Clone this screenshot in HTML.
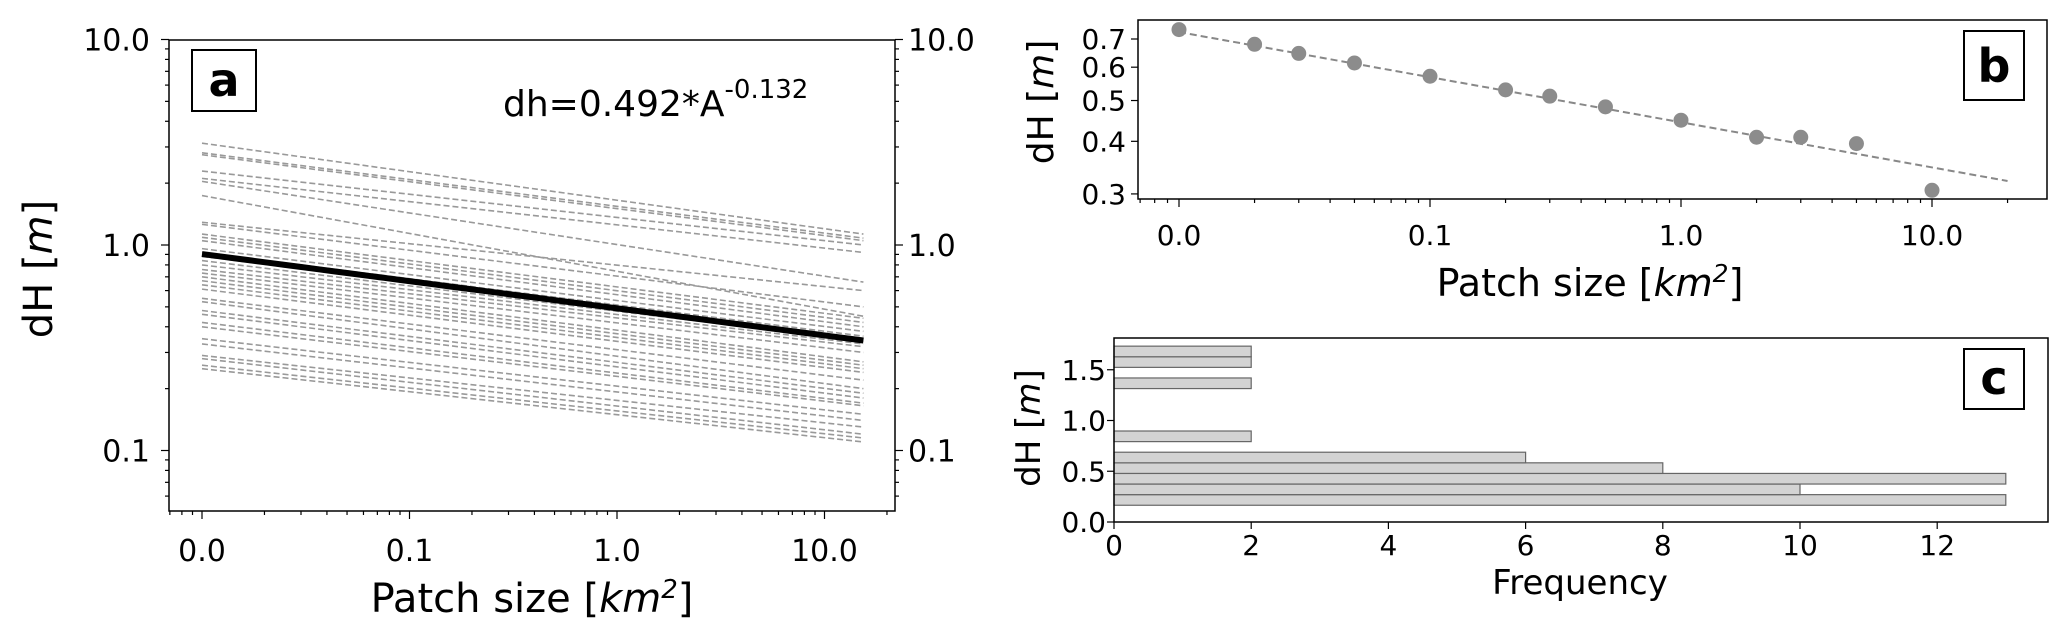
<!DOCTYPE html>
<html><head><meta charset="utf-8"><style>
html,body{margin:0;padding:0;background:#fff}
svg{display:block;font-family:"DejaVu Sans","Liberation Sans",sans-serif}
</style></head><body>
<svg id="fig" width="2067" height="636" viewBox="0 0 2067 636" xmlns="http://www.w3.org/2000/svg"></svg>
<script>
// ---- Panel a data ----
const aStartX = 0.01, aEndX = 15.4;
const aLineStarts = [3.13,2.81,2.75,2.29,2.11,2.04,1.74,1.29,1.26,1.13,1.09,1.05,0.96,0.92,0.88,0.84,0.80,0.76,0.73,0.70,0.67,0.64,0.61,0.55,0.53,0.48,0.46,0.42,0.40,0.35,0.33,0.29,0.28,0.26,0.25];
const aLineEnds = [1.13,1.08,1.05,1.00,0.92,0.66,0.45,0.60,0.50,0.44,0.42,0.40,0.38,0.36,0.35,0.34,0.33,0.32,0.30,0.27,0.26,0.25,0.24,0.22,0.20,0.19,0.18,0.17,0.165,0.15,0.14,0.13,0.12,0.115,0.11];
const aFitCoef = 0.492, aFitExp = -0.132;
const aXTicks = [0.01,0.1,1,10], aXTickLabels = ["0.0","0.1","1.0","10.0"];
const aYTicks = [0.1,1,10], aYTickLabels = ["0.1","1.0","10.0"];
// ---- Panel b data ----
const bX = [0.01,0.02,0.03,0.05,0.1,0.2,0.3,0.5,1,2,3,5,10];
const bY = [0.737,0.68,0.647,0.614,0.571,0.53,0.512,0.483,0.449,0.409,0.409,0.395,0.306];
const bFitX = [0.01,20], bFitY = [0.727,0.322];
const bXTicks = [0.01,0.1,1,10], bXTickLabels = ["0.0","0.1","1.0","10.0"];
const bYTicks = [0.3,0.4,0.5,0.6,0.7], bYTickLabels = ["0.3","0.4","0.5","0.6","0.7"];
// ---- Panel c data ----
const cBinStart = 0.165, cBinWidth = 0.1045;
const cCounts = [13,10,13,8,6,0,2,0,0,0,0,2,0,2,2];
const cXTicks = [0,2,4,6,8,10,12], cXTickLabels = ["0","2","4","6","8","10","12"];
const cYTicks = [0,0.5,1.0,1.5], cYTickLabels = ["0.0","0.5","1.0","1.5"];

const NS="http://www.w3.org/2000/svg";
const svg=document.getElementById('fig');
function mk(tag,attrs,parent,name){const e=document.createElementNS(NS,tag);for(const k in attrs)e.setAttribute(k,attrs[k]);


(parent||svg).appendChild(e);return e;}
function txt(s,x,y,size,anchor,parent,name,extra){const t=mk('text',Object.assign({x:x,y:y,'font-size':size,'text-anchor':anchor||'middle',fill:'#000'},extra||{}),parent,name);t.textContent=s;return t;}
const L=Math.log10;

// ===== Panel a =====
const ga=mk('g',{},svg,'panel-a');
const aL=169,aR=895,aT=40,aB=511;
const ax=v=>202+(L(v)+2)*207.5;
const ay=v=>245-L(v)*205.5;
const gl=mk('g',{},ga,'gray-lines');
for(let i=0;i<aLineStarts.length;i++){
  mk('line',{x1:ax(aStartX),y1:ay(aLineStarts[i]),x2:ax(aEndX),y2:ay(aLineEnds[i]),stroke:'#999','stroke-width':1.6,'stroke-dasharray':'6,3'},gl,'patch-line');
}
{let pts=[];for(let k=0;k<=40;k++){const v=Math.pow(10,L(aStartX)+(L(aEndX)-L(aStartX))*k/40);pts.push(ax(v)+','+ay(aFitCoef*Math.pow(v,aFitExp)));}
mk('polyline',{points:pts.join(' '),fill:'none',stroke:'#000','stroke-width':6},ga,'fit-line');}
mk('rect',{x:aL,y:aT,width:aR-aL,height:aB-aT,fill:'none',stroke:'#000','stroke-width':1.5},ga,'axes-frame-a');
// x ticks
for(let d=-3;d<=1;d++)for(let m=1;m<10;m++){const v=m*Math.pow(10,d);const x=ax(v);if(x<aL||x>aR)continue;
 mk('line',{x1:x,y1:aB,x2:x,y2:aB+(m==1?8:4),stroke:'#000','stroke-width':1.2},ga,'x-tick-a');}
aXTicks.forEach((v,i)=>txt(aXTickLabels[i],ax(v),561,30,'middle',ga,'x-tick-label-a'));
for(let d=-2;d<=1;d++)for(let m=1;m<10;m++){const v=m*Math.pow(10,d);const y=ay(v);if(y<aT-0.5||y>aB)continue;
 mk('line',{x1:aL,y1:y,x2:aL-(m==1?8:4),y2:y,stroke:'#000','stroke-width':1.2},ga,'y-tick-a');
 mk('line',{x1:aR,y1:y,x2:aR+(m==1?8:4),y2:y,stroke:'#000','stroke-width':1.2},ga,'y-tick-right-a');}
aYTicks.forEach((v,i)=>{txt(aYTickLabels[i],150,ay(v)+11,30,'end',ga,'y-tick-label-a');txt(aYTickLabels[i],908,ay(v)+11,30,'start',ga,'y-tick-label-right-a');});
{const t=txt('Patch size [',0,0,40,'middle',ga,'x-axis-title-a');t.setAttribute('x',532);t.setAttribute('y',612);t.textContent='';
 const s1=mk('tspan',{},t,'x-title-part');s1.textContent='Patch size [';
 const s2=mk('tspan',{'font-style':'italic'},t,'x-title-unit');s2.textContent='km';
 const s3=mk('tspan',{dy:-14,'font-size':26,'font-style':'italic'},t,'x-title-sup');s3.textContent='2';
 const s4=mk('tspan',{dy:14},t,'x-title-end');s4.textContent=']';}
{const t=txt('',0,0,40,'middle',ga,'y-axis-title-a',{transform:'translate(52,269) rotate(-90)'});
 const s1=mk('tspan',{},t,'y-title-part');s1.textContent='dH [';const s2=mk('tspan',{'font-style':'italic'},t,'y-title-unit');s2.textContent='m';const s3=mk('tspan',{},t,'y-title-end');s3.textContent=']';}
mk('rect',{x:192,y:50,width:64,height:61,fill:'#fff',stroke:'#000','stroke-width':2},ga,'label-box-a');
txt('a',224,96,46,'middle',ga,'panel-label-a',{'font-weight':'bold'});
{const t=txt('',503,116,36,'start',ga,'equation-text');const s1=mk('tspan',{},t,'eq-main');s1.textContent='dh=0.492*A';const s2=mk('tspan',{dy:-18,'font-size':26},t,'eq-exp');s2.textContent='-0.132';}

// ===== Panel b =====
const gb=mk('g',{},svg,'panel-b');
const bL=1138,bR=2047,bT=20,bB=199;
const bx=v=>1179+(L(v)+2)*251;
const by=v=>39+(L(0.7)-L(v))*421;
mk('line',{x1:bx(bFitX[0]),y1:by(bFitY[0]),x2:bx(bFitX[1]),y2:by(bFitY[1]),stroke:'#888','stroke-width':2,'stroke-dasharray':'7,4'},gb,'fit-line-b');
bX.forEach((v,i)=>mk('ellipse',{cx:bx(v),cy:by(bY[i]),rx:7.5,ry:7.5,fill:'#8c8c8c'},gb,'point-b'));
mk('rect',{x:bL,y:bT,width:bR-bL,height:bB-bT,fill:'none',stroke:'#000','stroke-width':1.5},gb,'axes-frame-b');
for(let d=-3;d<=1;d++)for(let m=1;m<10;m++){const v=m*Math.pow(10,d);const x=bx(v);if(x<bL||x>bR)continue;
 mk('line',{x1:x,y1:bB,x2:x,y2:bB+(m==1?8:4),stroke:'#000','stroke-width':1.2},gb,'x-tick-b');}
bXTicks.forEach((v,i)=>txt(bXTickLabels[i],bx(v),245,28,'middle',gb,'x-tick-label-b'));
bYTicks.forEach((v,i)=>{mk('line',{x1:bL,y1:by(v),x2:bL-7,y2:by(v),stroke:'#000','stroke-width':1.2},gb,'y-tick-b');txt(bYTickLabels[i],1126,by(v)+10,28,'end',gb,'y-tick-label-b');});
{const t=txt('',1590,296,38,'middle',gb,'x-axis-title-b');
 const s1=mk('tspan',{},t,'x-title-part');s1.textContent='Patch size [';const s2=mk('tspan',{'font-style':'italic'},t,'x-title-unit');s2.textContent='km';
 const s3=mk('tspan',{dy:-14,'font-size':25,'font-style':'italic'},t,'x-title-sup');s3.textContent='2';const s4=mk('tspan',{dy:14},t,'x-title-end');s4.textContent=']';}
{const t=txt('',0,0,36,'middle',gb,'y-axis-title-b',{transform:'translate(1053,102) rotate(-90)'});
 const s1=mk('tspan',{},t,'y-title-part');s1.textContent='dH [';const s2=mk('tspan',{'font-style':'italic'},t,'y-title-unit');s2.textContent='m';const s3=mk('tspan',{},t,'y-title-end');s3.textContent=']';}
mk('rect',{x:1964,y:31,width:60,height:69,fill:'#fff',stroke:'#000','stroke-width':2},gb,'label-box-b');
txt('b',1994,82,46,'middle',gb,'panel-label-b',{'font-weight':'bold'});

// ===== Panel c =====
const gc=mk('g',{},svg,'panel-c');
const cL=1114,cR=2048,cT=338,cB=522;
const cx=v=>cL+v*68.6;
const cy=v=>cB-v*101.5;
cCounts.forEach((c,i)=>{if(c<=0)return;const y0=cBinStart+i*cBinWidth;
 mk('rect',{x:cx(0),y:cy(y0+cBinWidth),width:cx(c)-cx(0),height:cy(y0)-cy(y0+cBinWidth),fill:'#d3d3d3',stroke:'#666','stroke-width':1.2},gc,'hist-bar');});
mk('rect',{x:cL,y:cT,width:cR-cL,height:cB-cT,fill:'none',stroke:'#000','stroke-width':1.5},gc,'axes-frame-c');
cXTicks.forEach((v,i)=>{mk('line',{x1:cx(v),y1:cB,x2:cx(v),y2:cB+7,stroke:'#000','stroke-width':1.2},gc,'x-tick-c');txt(cXTickLabels[i],cx(v),555,28,'middle',gc,'x-tick-label-c');});
cYTicks.forEach((v,i)=>{mk('line',{x1:cL,y1:cy(v),x2:cL-7,y2:cy(v),stroke:'#000','stroke-width':1.2},gc,'y-tick-c');txt(cYTickLabels[i],1106,cy(v)+10,28,'end',gc,'y-tick-label-c');});
txt('Frequency',1580,594,34,'middle',gc,'x-axis-title-c');
{const t=txt('',0,0,34,'middle',gc,'y-axis-title-c',{transform:'translate(1040,428) rotate(-90)'});
 const s1=mk('tspan',{},t,'y-title-part');s1.textContent='dH [';const s2=mk('tspan',{'font-style':'italic'},t,'y-title-unit');s2.textContent='m';const s3=mk('tspan',{},t,'y-title-end');s3.textContent=']';}
mk('rect',{x:1964,y:349,width:60,height:60,fill:'#fff',stroke:'#000','stroke-width':2},gc,'label-box-c');
txt('c',1994,394,46,'middle',gc,'panel-label-c',{'font-weight':'bold'});
</script>
</body></html>
